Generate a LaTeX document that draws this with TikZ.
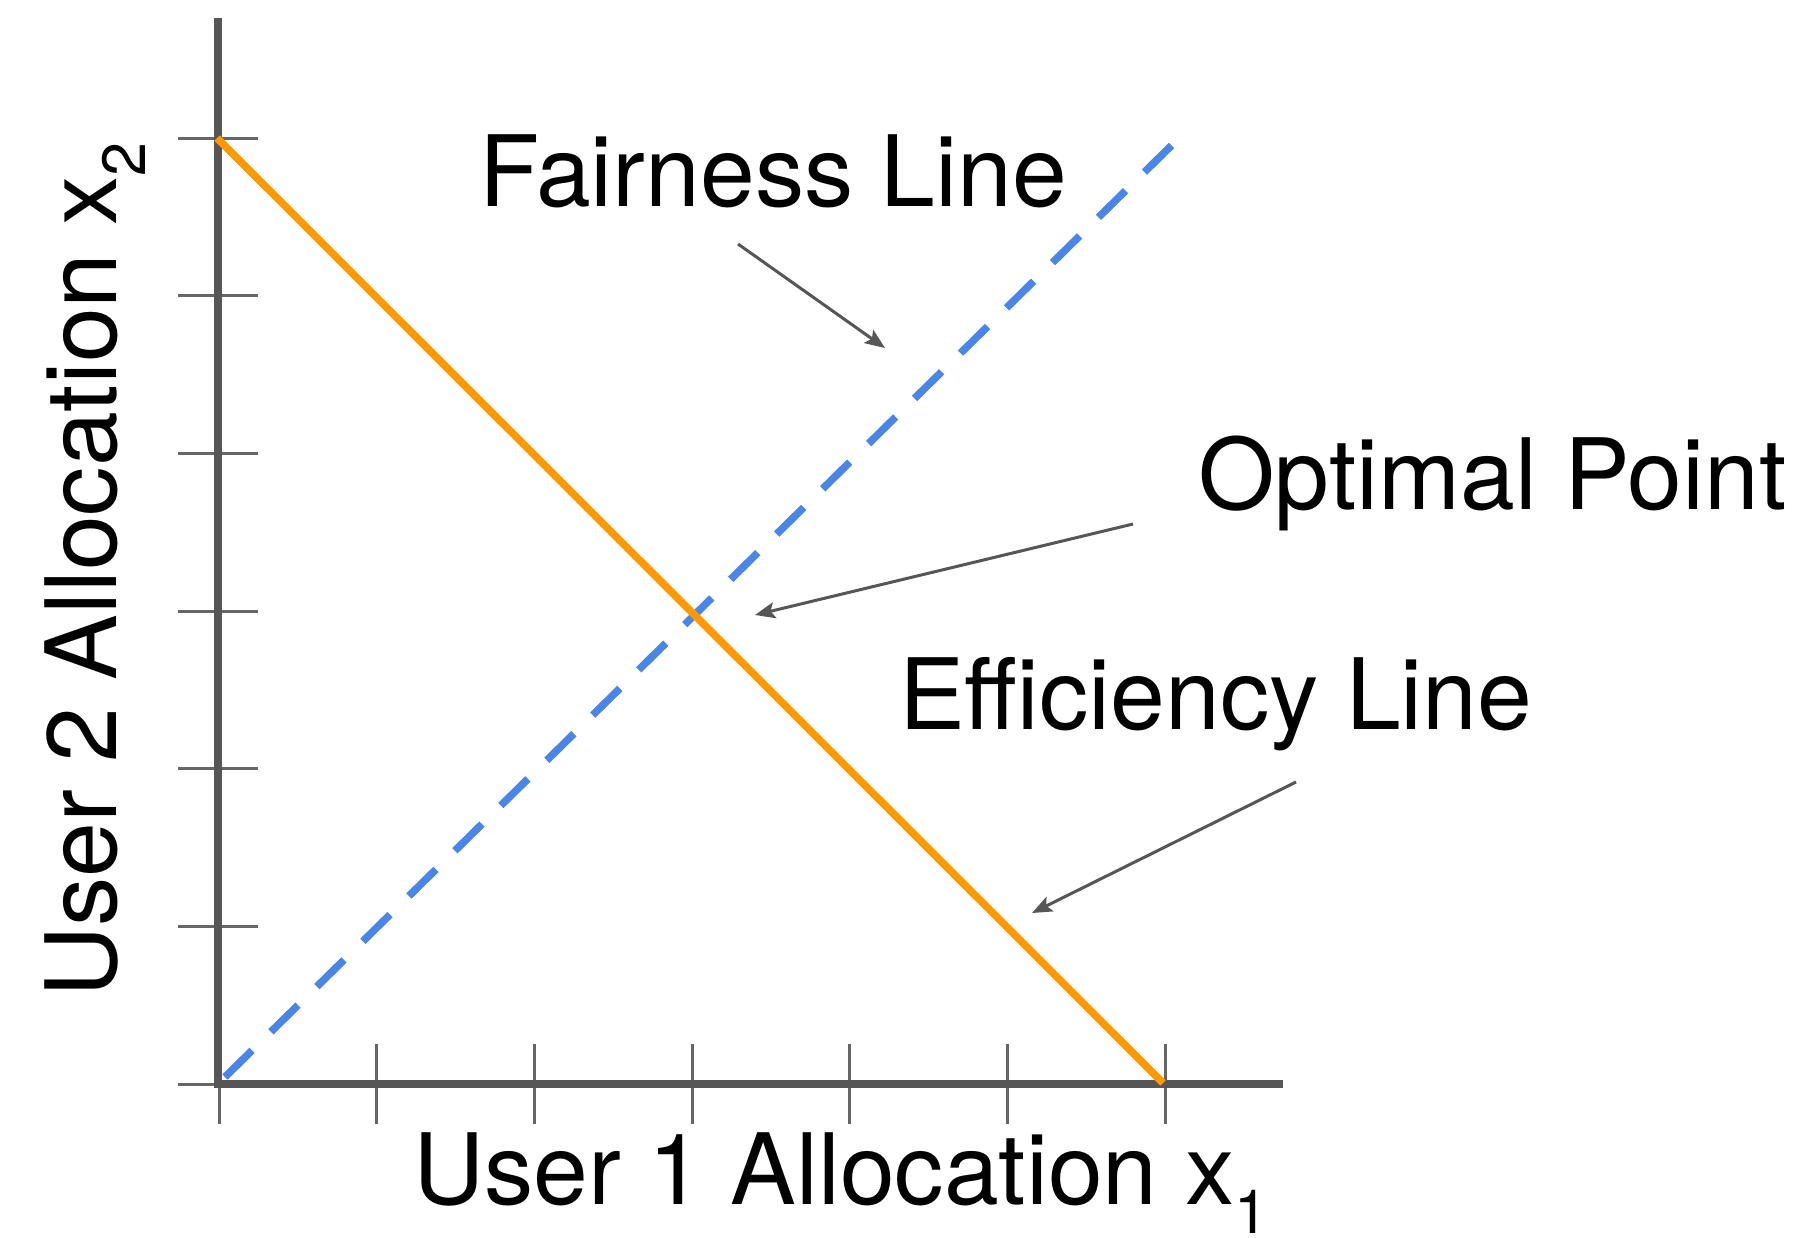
\documentclass[tikz,border=0pt]{standalone}
\usepackage{fontspec}
\setmainfont{TeX Gyre Heros}
\usetikzlibrary{arrows.meta}
\definecolor{axisgray}{HTML}{565656}
\definecolor{tickgray}{HTML}{666666}
\definecolor{effor}{HTML}{FF9900}
\definecolor{fairblue}{HTML}{4A86E8}
\newcommand{\bigtxt}{\fontsize{98.5}{112}\selectfont}
\newcommand{\subtxt}[1]{\raisebox{-29pt}{\fontsize{61}{61}\selectfont #1}}
\tikzset{
  axisline/.style={draw=axisgray, line width=8.5pt},
  tickline/.style={draw=tickgray, line width=3pt},
  effline/.style={draw=effor, line width=7.5pt},
  fairline/.style={draw=fairblue, line width=7.5pt, dash pattern=on 38pt off 26.5pt},
  pointer/.style={draw=axisgray, line width=3pt, -{Stealth[length=20pt,width=16pt,inset=4pt]}},
  label/.style={inner sep=0pt, font=\bigtxt}
}
\begin{document}
\begin{tikzpicture}[x=1pt,y=-1pt]
\useasboundingbox (0,0) rectangle (1814,1237);
% tick marks
\foreach \k in {0,...,5} {
  \draw[tickline] (178,{138+157.7*\k}) -- (258,{138+157.7*\k});
}
\draw[tickline] (178,1084) -- (218,1084);
\foreach \k in {1,...,6} {
  \draw[tickline] ({219+157.7*\k},1044) -- ({219+157.7*\k},1124);
}
\draw[tickline] (219,1084) -- (219,1124);
% axes
\coordinate (origin) at (218,1084);
\coordinate (ytop) at (218,18);
\coordinate (xend) at (1283,1084);
\draw[axisline] (ytop) -- (218,1088.25);
\draw[axisline] (213.75,1084) -- (xend);
% efficiency and fairness lines
\coordinate (effA) at (217,138);
\coordinate (effB) at (1163,1083);
\coordinate (fairA) at (225,1077);
\coordinate (fairB) at (1172,145);
\draw[fairline] (fairA) -- (fairB);
\draw[effline] (effA) -- (effB);
% labels
\node[label, anchor=base west] (fair) at (479,206) {Fairness Line};
\node[label, anchor=base west] (opt) at (1198,509) {Optimal Point};
\node[label, anchor=base west] (eff) at (899,729) {Efficiency Line};
\node[label, anchor=base west] (xlab) at (413,1204) {User 1 Allocation x\subtxt{1}};
\node[label, anchor=base west, rotate=90] (ylab) at (116,998) {User 2 Allocation x\subtxt{2}};
% pointers
\coordinate (fairS) at (738,244);
\coordinate (fairT) at (885,348);
\coordinate (optS) at (1133,524);
\coordinate (optT) at (755,615);
\coordinate (effS) at (1296,782);
\coordinate (effT) at (1032,913);
\draw[pointer] (fairS) -- (fairT);
\draw[pointer] (optS) -- (optT);
\draw[pointer] (effS) -- (effT);
\end{tikzpicture}
\end{document}
